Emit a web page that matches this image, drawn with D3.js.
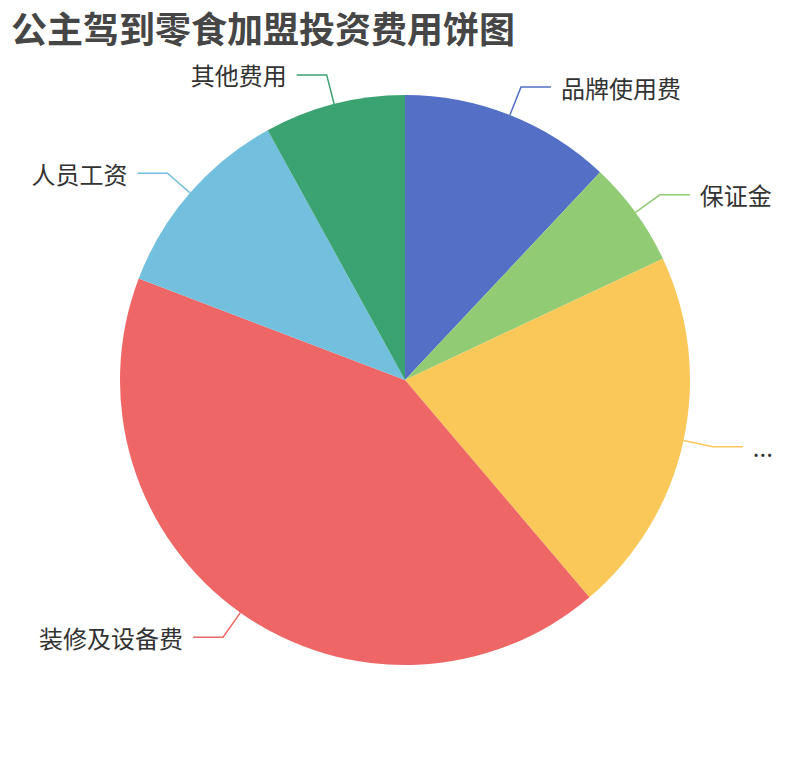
<!DOCTYPE html>
<html>
<head>
<meta charset="utf-8">
<script src="https://cdn.jsdelivr.net/npm/d3@7"></script>
<style>
  body { margin: 0; background: #fff; }
  svg { display: block; font-family: "Noto Sans CJK SC", "Noto Sans", sans-serif; }
</style>
</head>
<body>
<svg id="chart"></svg>
<script>
// slice names as they show on the chart (the yellow one is cut off to "...")
var categories = ["品牌使用费", "保证金", "...", "装修及设备费", "人员工资", "其他费用"];
// cost in 万元
var values = [3, 1.5, 5.2, 10.5, 2.8, 2];
var colors = ["#5470c6", "#91cc75", "#fac858", "#ee6666", "#73c0de", "#3ba272"];
var title = "公主驾到零食加盟投资费用饼图";

var width = 810, height = 760;
var cx = 405, cy = 380, radius = 285;
var len1 = 30, len2 = 30, gap = 10;

var svg = d3.select("#chart")
  .attr("width", width)
  .attr("height", height);

svg.append("text")
  .attr("x", 11)
  .attr("y", 43)
  .attr("fill", "#464646")
  .attr("font-size", 36)
  .attr("font-weight", "bold")
  .text(title);

var data = categories.map(function (c, i) { return { name: c, value: values[i] }; });

var pie = d3.pie()
  .sort(null)
  .value(function (d) { return d.value; });

var arc = d3.arc()
  .innerRadius(0)
  .outerRadius(radius);

var arcs = pie(data);

var g = svg.append("g")
  .attr("transform", "translate(" + cx + "," + cy + ")");

g.selectAll("path.slice")
  .data(arcs)
  .enter().append("path")
  .attr("class", "slice")
  .attr("d", arc)
  .attr("fill", function (d, i) { return colors[i]; });

function mid(d) { return (d.startAngle + d.endAngle) / 2; }
function pt(a, r) { return [Math.sin(a) * r, -Math.cos(a) * r]; }

g.selectAll("polyline.leader")
  .data(arcs)
  .enter().append("polyline")
  .attr("class", "leader")
  .attr("fill", "none")
  .attr("stroke", function (d, i) { return colors[i]; })
  .attr("stroke-width", 1.5)
  .attr("points", function (d) {
    var a = mid(d);
    var p0 = pt(a, radius), p1 = pt(a, radius + len1);
    var dir = Math.sin(a) >= 0 ? 1 : -1;
    var p2 = [p1[0] + dir * len2, p1[1]];
    return [p0, p1, p2].map(function (p) { return p.join(","); }).join(" ");
  });

g.selectAll("text.lbl")
  .data(arcs)
  .enter().append("text")
  .attr("class", "lbl")
  .attr("fill", "#333")
  .attr("font-size", 24)
  .attr("dominant-baseline", "central")
  .attr("text-anchor", function (d) { return Math.sin(mid(d)) >= 0 ? "start" : "end"; })
  .attr("x", function (d) {
    var a = mid(d);
    var dir = Math.sin(a) >= 0 ? 1 : -1;
    return pt(a, radius + len1)[0] + dir * (len2 + gap);
  })
  .attr("y", function (d) { return pt(mid(d), radius + len1)[1]; })
  .text(function (d) { return d.data.name; });
</script>
</body>
</html>
